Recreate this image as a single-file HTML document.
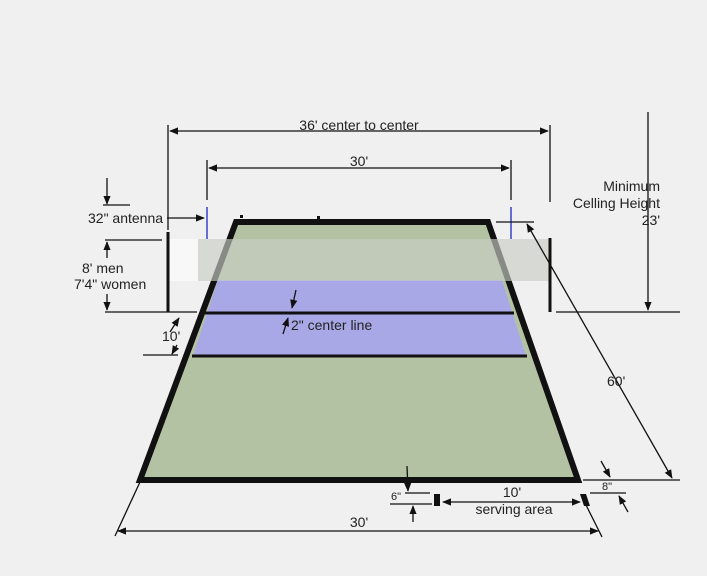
<!DOCTYPE html>
<html><head><meta charset="utf-8"><style>
html,body{margin:0;padding:0;background:#f0f0f0;}
svg{display:block;font-family:"Liberation Sans",Arial,sans-serif;}
</style></head><body>
<svg width="707" height="576" viewBox="0 0 707 576" xmlns="http://www.w3.org/2000/svg">
<defs>
<marker id="a" viewBox="0 0 10 10" refX="9" refY="5" markerWidth="7" markerHeight="7" orient="auto-start-reverse"><path d="M0,1 L10,5 L0,9 z" fill="#111"/></marker>
</defs>
<rect width="707" height="576" fill="#f0f0f0"/>
<!-- court -->
<polygon points="238,224 486,224 575,478 143,478" fill="#b4c2a4"/>
<polygon points="218,280 502,280 526,356 193,356" fill="#a8a8e6"/>
<line x1="205" y1="313" x2="514" y2="313" stroke="#111" stroke-width="3"/>
<line x1="192" y1="356" x2="527" y2="356" stroke="#111" stroke-width="3"/>
<polygon points="236,222 488,222 578,480 140,480" fill="none" stroke="#111" stroke-width="6" stroke-linejoin="miter"/>
<!-- net -->
<rect x="168" y="239" width="30" height="42" fill="#f8f8f8" opacity="0.9"/>
<rect x="198" y="239" width="353" height="42" fill="#c8ccc4" opacity="0.65"/>
<line x1="168" y1="232" x2="168" y2="312" stroke="#111" stroke-width="3"/>
<line x1="550" y1="238" x2="550" y2="312" stroke="#111" stroke-width="3"/>
<line x1="207" y1="207" x2="207" y2="239" stroke="#3344cc" stroke-width="1.5"/>
<line x1="511" y1="207" x2="511" y2="239" stroke="#3344cc" stroke-width="1.5"/>
<g stroke="#111" stroke-width="1.3" fill="none">
<!-- 36' -->
<line x1="168" y1="125" x2="168" y2="230"/><line x1="550" y1="125" x2="550" y2="202"/>
<line x1="170" y1="131" x2="548" y2="131" marker-start="url(#a)" marker-end="url(#a)"/>
<!-- 30' -->
<line x1="207" y1="160" x2="207" y2="200"/><line x1="511" y1="160" x2="511" y2="200"/>
<line x1="209" y1="168" x2="509" y2="168" marker-start="url(#a)" marker-end="url(#a)"/>
<!-- ceiling -->
<line x1="648" y1="112" x2="648" y2="310" marker-end="url(#a)"/>
<line x1="556" y1="312" x2="680" y2="312"/>
<!-- 60' -->
<line x1="496" y1="222" x2="534" y2="222"/>
<line x1="527" y1="224" x2="672" y2="478" marker-start="url(#a)" marker-end="url(#a)"/>
<line x1="583" y1="480" x2="680" y2="480"/>
<line x1="590" y1="493" x2="626" y2="493"/>
<line x1="601" y1="461" x2="610" y2="477" marker-end="url(#a)"/>
<line x1="628" y1="512" x2="619" y2="496" marker-end="url(#a)"/>
<!-- bottom 30' -->
<line x1="140" y1="482" x2="115" y2="536"/>
<line x1="581" y1="495" x2="602" y2="537"/>
<line x1="118" y1="531" x2="598" y2="531" marker-start="url(#a)" marker-end="url(#a)"/>
<!-- serving -->
<line x1="443" y1="502" x2="580" y2="502" marker-start="url(#a)" marker-end="url(#a)"/>
<line x1="405" y1="493" x2="430" y2="493"/>
<line x1="390" y1="504" x2="432" y2="504"/>
<line x1="407" y1="466" x2="408" y2="491" marker-end="url(#a)"/>
<line x1="413" y1="522" x2="413" y2="506" marker-end="url(#a)"/>
<!-- left -->
<line x1="107" y1="178" x2="107" y2="204" marker-end="url(#a)"/>
<line x1="103" y1="205" x2="130" y2="205"/>
<line x1="167" y1="218" x2="204" y2="218" marker-end="url(#a)"/>
<line x1="105" y1="240" x2="162" y2="240"/>
<line x1="105" y1="312" x2="197" y2="312"/>
<line x1="107" y1="258" x2="107" y2="242" marker-end="url(#a)"/>
<line x1="107" y1="294" x2="107" y2="310" marker-end="url(#a)"/>
<line x1="179" y1="318" x2="170" y2="332" marker-start="url(#a)"/>
<line x1="143" y1="355" x2="178" y2="355"/>
<line x1="177" y1="345" x2="172" y2="354" marker-end="url(#a)"/>
<line x1="296" y1="290" x2="292" y2="308" marker-end="url(#a)"/>
<line x1="283" y1="334" x2="288" y2="318" marker-end="url(#a)"/>
</g>
<rect x="434" y="494" width="6" height="12" fill="#111"/>
<polygon points="580,494 586,494 590,506 584,506" fill="#111"/>
<rect x="240" y="215" width="3" height="3" fill="#111"/><rect x="317" y="216" width="3" height="3" fill="#111"/>
<g fill="#222" font-size="14">
<text x="359" y="130" text-anchor="middle">36' center to center</text>
<text x="359" y="166" text-anchor="middle">30'</text>
<text x="88" y="223">32" antenna</text>
<text x="82" y="273">8'  men</text>
<text x="74" y="289">7'4" women</text>
<text x="162" y="341">10'</text>
<text x="291" y="330">2" center line</text>
<text x="660" y="191" text-anchor="end">Minimum</text>
<text x="660" y="208" text-anchor="end">Celling Height</text>
<text x="660" y="225" text-anchor="end">23'</text>
<text x="607" y="386">60'</text>
<text x="512" y="497" text-anchor="middle">10'</text>
<text x="514" y="514" text-anchor="middle">serving area</text>
<text x="359" y="527" text-anchor="middle">30'</text>
<text x="391" y="500" font-size="11">6"</text>
<text x="607" y="490" font-size="11" text-anchor="middle">8"</text>
</g>
</svg>
</body></html>
